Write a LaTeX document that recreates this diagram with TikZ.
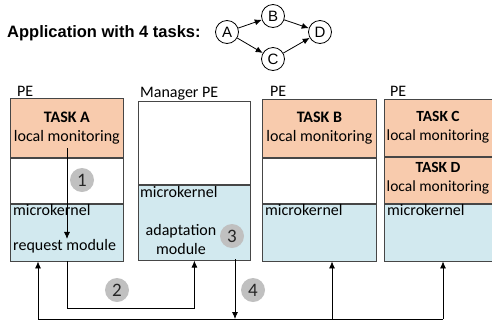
\documentclass[tikz,border=0pt]{standalone}
\usepackage{fontspec}
\setmainfont{Carlito}
\newfontfamily\arialfont{Liberation Sans}
\usetikzlibrary{arrows.meta, positioning}
\definecolor{taskorange}{RGB}{248,203,173}
\definecolor{kernelblue}{RGB}{210,233,239}
\definecolor{stepgray}{RGB}{192,192,192}
\definecolor{edgegray}{RGB}{70,70,70}

\begin{document}
\begin{tikzpicture}[x=1pt, y=-1pt,
    pebox/.style={draw=edgegray, line width=0.8pt, minimum width=#1, anchor=north west,
      inner sep=0pt, align=center, font=\fontsize{16}{19}\selectfont},
    taskbox/.style={pebox=#1, fill=taskorange},
    kernelbox/.style={pebox=#1, fill=kernelblue},
    txt/.style={inner sep=0pt, anchor=west, font=\fontsize{16}{19}\selectfont},
    stepdot/.style={circle, fill=stepgray, minimum size=24pt, inner sep=0pt,
      font=\fontsize{19}{19}\selectfont, text=black!85},
    tasknode/.style={circle, draw, line width=0.8pt, minimum size=23pt, inner sep=0pt,
      font=\arialfont\fontsize{15}{15}\selectfont},
    arr/.style={-{Latex[length=7pt,width=6pt]}, line width=0.8pt},
  ]
  \useasboundingbox (0,0) rectangle (492,322);
  \clip (0,0) rectangle (492,322);

  % application graph
  \node[anchor=west, inner sep=0pt, font=\arialfont\bfseries\fontsize{16.5}{16.5}\selectfont]
    (app) at (7,33) {Application with 4 tasks:};
  \node[tasknode] (A) at (227,32) {A};
  \node[tasknode] (B) at (273,16) {B};
  \node[tasknode] (C) at (273,59) {C};
  \node[tasknode] (D) at (320,32) {D};
  \foreach \s/\t in {A/B, A/C, B/D, C/D}
    \draw[arr] (\s) -- (\t);

  % PE with task A
  \node[txt] (peA) at (17,91) {PE};
  \node[taskbox=113pt, minimum height=59pt] (tA) at (10,98) {\textbf{TASK A}\\local monitoring};
  \node[pebox=113pt, minimum height=45pt, fill=white] (wA) at (tA.south west) {};
  \node[kernelbox=113pt, minimum height=57pt] (mA) at (wA.south west) {};
  \node[txt] (kA) at (13,210) {microkernel};
  \node[txt] (rqA) at (13,246) {request module};

  % manager PE
  \node[txt] (peM) at (140,94) {Manager PE};
  \node[pebox=112pt, minimum height=83pt, fill=white] (wM) at (138,101) {};
  \node[kernelbox=112pt, minimum height=75pt] (mM) at (wM.south west) {};
  \node[txt] (kM) at (140,192) {microkernel};
  \node[txt, anchor=center, align=center] (adM) at (181,239) {adaptation\\module};

  % PE with task B
  \node[txt] (peB) at (270,91) {PE};
  \node[taskbox=114pt, minimum height=58pt] (tB) at (262,99) {\textbf{TASK B}\\local monitoring};
  \node[pebox=114pt, minimum height=45pt, fill=white] (wB) at (tB.south west) {};
  \node[kernelbox=114pt, minimum height=57pt] (mB) at (wB.south west) {};
  \node[txt] (kB) at (265,210) {microkernel};

  % PE with tasks C and D
  \node[txt] (peC) at (390,91) {PE};
  \node[taskbox=114pt, minimum height=57pt] (tC) at (384,99) {};
  \node[taskbox=114pt, minimum height=46pt] (tD) at (tC.south west) {};
  \node[kernelbox=114pt, minimum height=57pt] (mC) at (tD.south west) {};
  \node[txt, anchor=center, align=center, font=\fontsize{15.5}{19}\selectfont]
    (lC) at (438,127.5) {\textbf{TASK C}\\local monitoring};
  \node[txt, anchor=center, align=center, font=\fontsize{15.5}{19}\selectfont]
    (lD) at (438,178) {\textbf{TASK D}\\local monitoring};
  \node[txt] (kC) at (387,210) {microkernel};

  % steps
  \coordinate (a1) at (67,148);
  \draw[arr] (a1) -- (a1 |- rqA.north);
  \draw[arr] (mA.south) -- ++(0,47) -| (mM.south);
  \coordinate (busL) at (38,319);
  \coordinate (busR) at (443,319);
  \coordinate (busB) at (332,319);
  \coordinate (m4) at (235,259);
  \draw[line width=0.8pt] (busL) -- (busR);
  \draw[arr] (m4) -- (m4 |- busL);
  \draw[arr] (busL) -- (busL |- mA.south);
  \draw[arr] (busB) -- (busB |- mB.south);
  \draw[arr] (busR) -- (busR |- mC.south);

  \node[stepdot] (s1) at (82,180) {1};
  \node[stepdot] (s2) at (117,290) {2};
  \node[stepdot] (s3) at (232,236) {3};
  \node[stepdot] (s4) at (253,290) {4};
\end{tikzpicture}
\end{document}
